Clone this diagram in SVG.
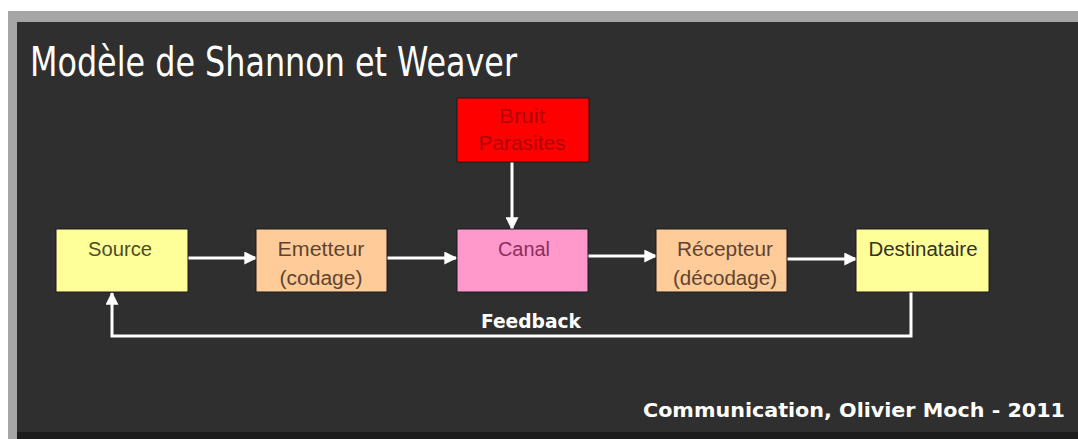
<svg xmlns="http://www.w3.org/2000/svg" width="1078" height="439" viewBox="0 0 1078 439">
<defs>
<marker id="ah" viewBox="0 0 10 10" refX="9" refY="5" markerWidth="13" markerHeight="13" markerUnits="userSpaceOnUse" orient="auto">
<path d="M0,0 L10,5 L0,10 z" fill="#ffffff"/>
</marker>
<style>
.box{stroke:#1a1a1a;stroke-width:1}
.lbl{font-family:"Liberation Sans Narrow","Liberation Sans",sans-serif;font-size:20px;text-anchor:middle}
.con{stroke:#ffffff;stroke-width:3;fill:none}
</style>
</defs>
<rect x="0" y="0" width="1078" height="439" fill="#ffffff"/>
<rect x="8" y="11" width="1070" height="428" fill="#a6a6a6"/>
<rect x="17" y="22" width="1061" height="417" fill="#2f2f2f"/>
<rect x="17" y="432" width="1061" height="7" fill="#1c1c1c"/>
<text x="30" y="76" font-family="DejaVu Sans Condensed, DejaVu Sans, sans-serif" font-size="41" fill="#ffffff" textLength="487" lengthAdjust="spacingAndGlyphs">Modèle de Shannon et Weaver</text>
<g id="connectors">
<line class="con" x1="512" y1="162" x2="512" y2="229" marker-end="url(#ah)"/>
<line class="con" x1="188" y1="258" x2="256" y2="258" marker-end="url(#ah)"/>
<line class="con" x1="387" y1="258" x2="456" y2="258" marker-end="url(#ah)"/>
<line class="con" x1="588" y1="256" x2="656" y2="256" marker-end="url(#ah)"/>
<line class="con" x1="787" y1="259" x2="856" y2="259" marker-end="url(#ah)"/>
<polyline class="con" points="911,292 911,336 112,336 112,293" marker-end="url(#ah)"/>
<text x="531" y="328" font-family="DejaVu Sans Condensed, DejaVu Sans, sans-serif" font-size="19" font-weight="bold" fill="#ffffff" text-anchor="middle" textLength="100" lengthAdjust="spacingAndGlyphs">Feedback</text>
</g>
<g id="bruit">
<rect class="box" x="457" y="98" width="132" height="64" fill="#ff0000"/>
<text class="lbl" x="522" y="123" fill="#b00000" textLength="46" lengthAdjust="spacingAndGlyphs">Bruit</text>
<text class="lbl" x="522" y="150" fill="#b00000" textLength="87" lengthAdjust="spacingAndGlyphs">Parasites</text>
</g>
<g id="source">
<rect class="box" x="56" y="229" width="132" height="63" fill="#ffff99"/>
<text class="lbl" x="120" y="256" fill="#4d4d26" textLength="64" lengthAdjust="spacingAndGlyphs">Source</text>
</g>
<g id="emetteur">
<rect class="box" x="256" y="229" width="131" height="63" fill="#ffcc99"/>
<text class="lbl" x="321" y="256" fill="#5e4430" textLength="87" lengthAdjust="spacingAndGlyphs">Emetteur</text>
<text class="lbl" x="321" y="285" fill="#5e4430" textLength="83" lengthAdjust="spacingAndGlyphs">(codage)</text>
</g>
<g id="canal">
<rect class="box" x="457" y="229" width="131" height="63" fill="#ff99cc"/>
<text class="lbl" x="524" y="256" fill="#8c2e5c" textLength="52" lengthAdjust="spacingAndGlyphs">Canal</text>
</g>
<g id="recepteur">
<rect class="box" x="656" y="229" width="131" height="63" fill="#ffcc99"/>
<text class="lbl" x="725" y="256" fill="#5e4430" textLength="96" lengthAdjust="spacingAndGlyphs">Récepteur</text>
<text class="lbl" x="725" y="285" fill="#5e4430" textLength="104" lengthAdjust="spacingAndGlyphs">(décodage)</text>
</g>
<g id="destinataire">
<rect class="box" x="856" y="229" width="133" height="63" fill="#ffff99"/>
<text class="lbl" x="923" y="256" fill="#333322" textLength="109" lengthAdjust="spacingAndGlyphs">Destinataire</text>
</g>
<text x="1065" y="417" font-family="DejaVu Sans Condensed, DejaVu Sans, sans-serif" font-size="19" font-weight="bold" fill="#ffffff" text-anchor="end" textLength="422" lengthAdjust="spacingAndGlyphs">Communication, Olivier Moch - 2011</text>
</svg>
